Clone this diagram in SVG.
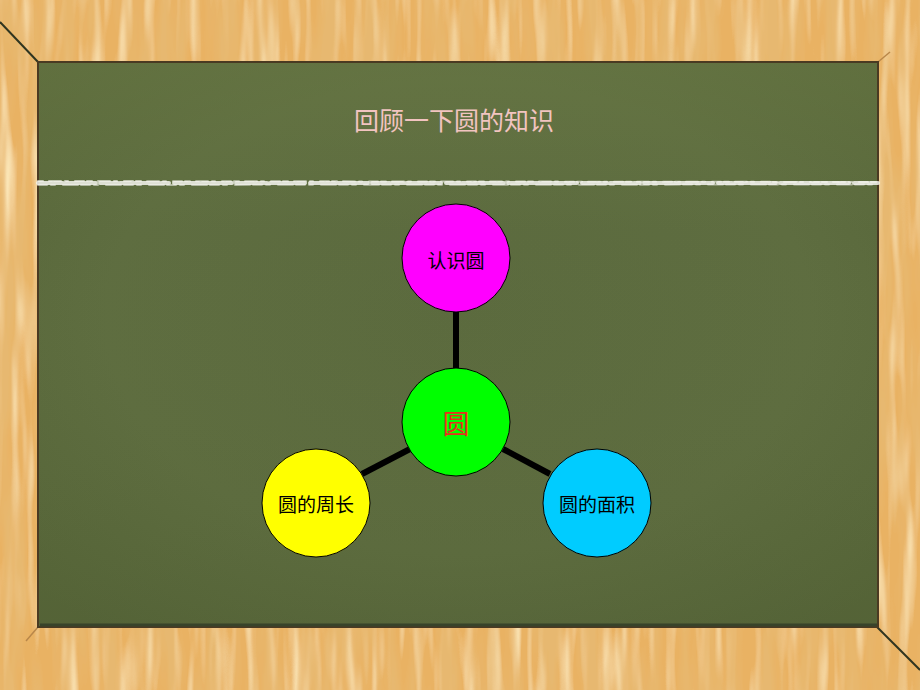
<svg xmlns="http://www.w3.org/2000/svg" width="920" height="690" viewBox="0 0 920 690">
  <defs>
    <filter id="woodgrain" x="0" y="0" width="100%" height="100%" filterUnits="objectBoundingBox">
      <feTurbulence type="fractalNoise" baseFrequency="0.05 0.006" numOctaves="3" seed="7" result="n"/>
      <feColorMatrix in="n" type="matrix" values="0 0 0 0 0.80  0 0 0 0 0.48  0 0 0 0 0.16  3.2 0 0 0 -1.3" result="dark"/>
      <feTurbulence type="fractalNoise" baseFrequency="0.09 0.008" numOctaves="2" seed="3" result="n2"/>
      <feColorMatrix in="n2" type="matrix" values="0 0 0 0 0.97  0 0 0 0 0.80  0 0 0 0 0.48  2.4 0 0 0 -1.1" result="light"/>
      <feMerge result="m">
        <feMergeNode in="SourceGraphic"/>
        <feMergeNode in="light"/>
        <feMergeNode in="dark"/>
      </feMerge>
      <feComposite in="m" in2="SourceGraphic" operator="in"/>
    </filter>
    <radialGradient id="boardGrad" cx="0.5" cy="0.45" r="0.7">
      <stop offset="0" stop-color="#5b6a3e"/>
      <stop offset="0.6" stop-color="#5e6d40"/>
      <stop offset="1" stop-color="#566538"/>
    </radialGradient>
    <linearGradient id="boardTop" x1="0" y1="0" x2="0" y2="1">
      <stop offset="0" stop-color="#6a7a45" stop-opacity="0.5"/>
      <stop offset="0.3" stop-color="#6a7a45" stop-opacity="0"/>
      <stop offset="1" stop-color="#4f5d33" stop-opacity="0.25"/>
    </linearGradient>
    <style>
      .node circle { stroke: #000; stroke-width: 1; }
      .lbl { font-family: "Noto Sans CJK SC", "Noto Sans", sans-serif; font-size: 19px; fill: #000; text-anchor: middle; dominant-baseline: central; }
      .conn line { stroke: #000; stroke-width: 6; }
      .chalk { stroke: #f4f4ee; fill: none; stroke-linecap: round; }
    </style>
  </defs>

  <!-- wood frame -->
  <rect x="0" y="0" width="920" height="690" fill="#e9b263" filter="url(#woodgrain)"/>

  <!-- frame bevel lines -->
  <line x1="0" y1="22" x2="38" y2="62" stroke="#2f3520" stroke-width="2"/>
  <line x1="877" y1="627" x2="920" y2="670" stroke="#2f3520" stroke-width="2"/>
  <line x1="878" y1="62" x2="890" y2="52" stroke="#b9874a" stroke-width="1.5"/>
  <line x1="38" y1="627" x2="26" y2="641" stroke="#b9874a" stroke-width="1.5"/>

  <!-- chalkboard -->
  <rect x="37" y="61" width="842" height="567" fill="#4a3a22"/>
  <rect x="39" y="63" width="838" height="563" fill="url(#boardGrad)"/>
  <rect x="39" y="63" width="838" height="563" fill="url(#boardTop)"/>
  <line x1="40" y1="625" x2="877" y2="625" stroke="#38432a" stroke-width="3"/>

  <!-- chalk line -->
  <g id="chalk-line">
    <path class="chalk" d="M38 183 L878 183" stroke-width="4" stroke-dasharray="14 2 9 3 22 2 6 4 18 2 11 3 25 2 8 5" opacity="0.85"/>
    <path class="chalk" d="M38 181 L878 182" stroke-width="2" stroke-dasharray="5 6 12 4 3 7 9 3" opacity="0.65"/>
    <path class="chalk" d="M38 185 L878 184.5" stroke-width="2" stroke-dasharray="9 4 4 8 15 3" opacity="0.55"/>
  </g>

  <!-- title -->
  <text id="title" x="454" y="119" font-family="Noto Sans CJK SC, Noto Sans, sans-serif" font-size="25" fill="#f2c4c0" text-anchor="middle" dominant-baseline="central">回顾一下圆的知识</text>

  <!-- connectors -->
  <g id="connectors" class="conn">
    <line x1="456" y1="312" x2="456" y2="368"/>
    <line x1="410" y1="449" x2="362" y2="474"/>
    <line x1="503" y1="449" x2="550" y2="474"/>
  </g>

  <!-- nodes -->
  <g id="node-renshi" class="node">
    <circle cx="456" cy="258" r="54" fill="#ff00ff"/>
    <text class="lbl" x="456" y="259">认识圆</text>
  </g>
  <g id="node-center" class="node">
    <circle cx="456" cy="422" r="54" fill="#00ff00"/>
    <text class="lbl" x="456" y="422" style="font-size:27px;fill:#e8301c">圆</text>
  </g>
  <g id="node-zhouchang" class="node">
    <circle cx="316" cy="503" r="54" fill="#ffff00"/>
    <text class="lbl" x="316" y="503">圆的周长</text>
  </g>
  <g id="node-mianji" class="node">
    <circle cx="597" cy="503" r="54" fill="#00ccff"/>
    <text class="lbl" x="597" y="503">圆的面积</text>
  </g>
</svg>
